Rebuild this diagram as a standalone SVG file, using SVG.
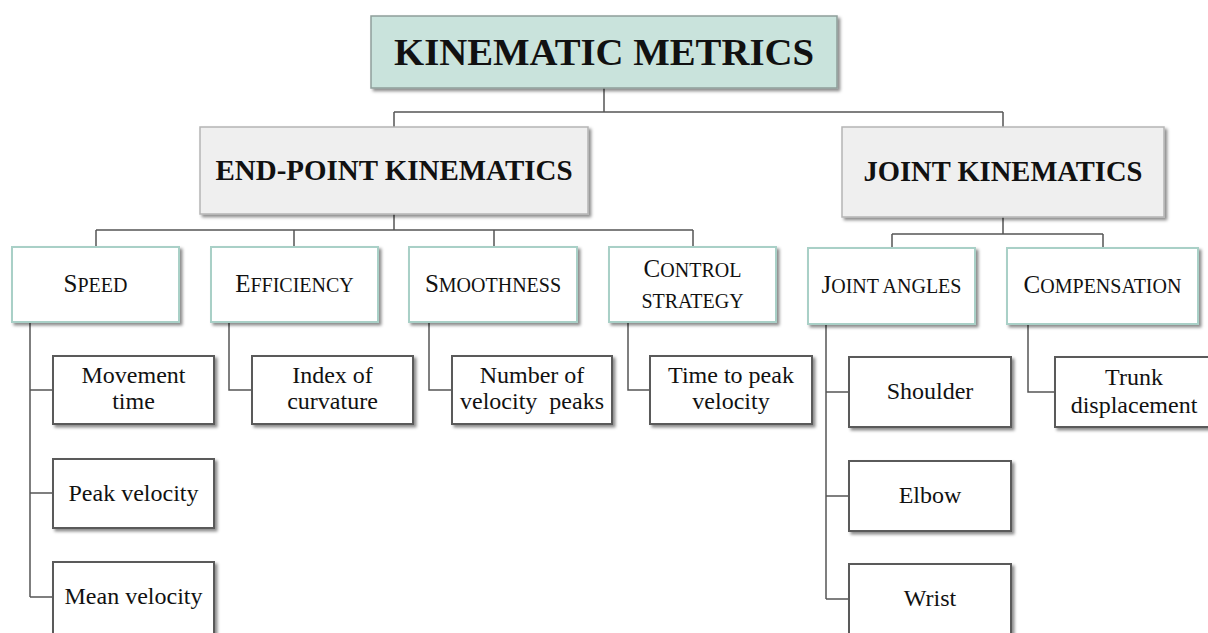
<svg xmlns="http://www.w3.org/2000/svg" width="1208" height="633" viewBox="0 0 1208 633">
<defs>
<filter id="sh" x="-10%" y="-10%" width="130%" height="140%">
<feDropShadow dx="2.5" dy="2.5" stdDeviation="1.5" flood-color="#000" flood-opacity="0.45"/>
</filter>
<style>
.t{font-family:"Liberation Serif","Times New Roman",serif;fill:#111;text-anchor:middle}
.b{font-weight:bold}
.root{fill:#c9e3dc;stroke:#8e9e9a;stroke-width:1.5}
.l1{fill:#efefef;stroke:#b5b5b5;stroke-width:1.5}
.l2{fill:#fff;stroke:#a9d0c7;stroke-width:2}
.l3{fill:#fff;stroke:#5a5a5a;stroke-width:2}
.c{fill:none;stroke:#555;stroke-width:1.5}
.s{font-size:24px}
.sc{font-size:25px}
.sm{font-size:20px}
</style>
</defs>
<rect width="1208" height="633" fill="#fff"/>
<g id="connectors">
<path class="c" d="M604 88V112M394 112H1003M394 112V127M1003 112V127"/>
<path class="c" d="M394 214V230M96 230H693M96 230V247M294 230V247M494 230V247M693 230V247"/>
<path class="c" d="M1003 217V234M892 234H1103M892 234V248M1103 234V248"/>
<path class="c" d="M30 322V597M30 390H53M30 493H53M30 597H53"/>
<path class="c" d="M229 322V390H252"/>
<path class="c" d="M429 322V390H452"/>
<path class="c" d="M628 322V390H650"/>
<path class="c" d="M826 324V599M826 392H849M826 496H849M826 599H849"/>
<path class="c" d="M1028 324V392H1055"/>
</g>
<g id="kinematic-metrics">
<rect class="root" x="371" y="16" width="466" height="72" filter="url(#sh)"/>
<text class="t b" x="604" y="65" font-size="38" textLength="420" lengthAdjust="spacingAndGlyphs">KINEMATIC METRICS</text>
</g>
<g id="end-point-kinematics">
<rect class="l1" x="200" y="127" width="388" height="87" filter="url(#sh)"/>
<text class="t b" x="394" y="180" font-size="29" textLength="357" lengthAdjust="spacingAndGlyphs">END-POINT KINEMATICS</text>
</g>
<g id="joint-kinematics">
<rect class="l1" x="842" y="127" width="322" height="90" filter="url(#sh)"/>
<text class="t b" x="1003" y="181" font-size="29" textLength="279" lengthAdjust="spacingAndGlyphs">JOINT KINEMATICS</text>
</g>
<g id="speed">
<rect class="l2" x="12" y="247" width="167" height="75" filter="url(#sh)"/>
<text class="t" x="95.5" y="292"><tspan class="sc">S</tspan><tspan class="sm">PEED</tspan></text>
</g>
<g id="efficiency">
<rect class="l2" x="211" y="247" width="167" height="75" filter="url(#sh)"/>
<text class="t" x="294.5" y="292"><tspan class="sc">E</tspan><tspan class="sm">FFICIENCY</tspan></text>
</g>
<g id="smoothness">
<rect class="l2" x="409" y="247" width="168" height="75" filter="url(#sh)"/>
<text class="t" x="493" y="292"><tspan class="sc">S</tspan><tspan class="sm">MOOTHNESS</tspan></text>
</g>
<g id="control-strategy">
<rect class="l2" x="609" y="247" width="167" height="75" filter="url(#sh)"/>
<text class="t" x="692.5" y="277"><tspan class="sc">C</tspan><tspan class="sm">ONTROL</tspan></text>
<text class="t sm" x="692.5" y="308">STRATEGY</text>
</g>
<g id="joint-angles">
<rect class="l2" x="808" y="248" width="167" height="76" filter="url(#sh)"/>
<text class="t" x="891.5" y="293"><tspan class="sc">J</tspan><tspan class="sm">OINT ANGLES</tspan></text>
</g>
<g id="compensation">
<rect class="l2" x="1007" y="248" width="191" height="76" filter="url(#sh)"/>
<text class="t" x="1102.5" y="293"><tspan class="sc">C</tspan><tspan class="sm">OMPENSATION</tspan></text>
</g>
<g id="movement-time">
<rect class="l3" x="53" y="356" width="161" height="68" filter="url(#sh)"/>
<text class="t s" x="133.5" y="383">Movement</text>
<text class="t s" x="133.5" y="409">time</text>
</g>
<g id="peak-velocity">
<rect class="l3" x="53" y="459" width="161" height="69" filter="url(#sh)"/>
<text class="t s" x="133.5" y="501">Peak velocity</text>
</g>
<g id="mean-velocity">
<rect class="l3" x="53" y="562" width="161" height="72" filter="url(#sh)"/>
<text class="t s" x="133.5" y="604">Mean velocity</text>
</g>
<g id="index-of-curvature">
<rect class="l3" x="252" y="356" width="161" height="68" filter="url(#sh)"/>
<text class="t s" x="332.5" y="383">Index of</text>
<text class="t s" x="332.5" y="409">curvature</text>
</g>
<g id="number-of-velocity-peaks">
<rect class="l3" x="452" y="356" width="160" height="68" filter="url(#sh)"/>
<text class="t s" x="532" y="383">Number of</text>
<text class="t s" x="532" y="409" xml:space="preserve">velocity  peaks</text>
</g>
<g id="time-to-peak-velocity">
<rect class="l3" x="650" y="356" width="162" height="68" filter="url(#sh)"/>
<text class="t s" x="731" y="383">Time to peak</text>
<text class="t s" x="731" y="409">velocity</text>
</g>
<g id="shoulder">
<rect class="l3" x="849" y="357" width="162" height="70" filter="url(#sh)"/>
<text class="t s" x="930" y="399">Shoulder</text>
</g>
<g id="elbow">
<rect class="l3" x="849" y="461" width="162" height="70" filter="url(#sh)"/>
<text class="t s" x="930" y="503">Elbow</text>
</g>
<g id="wrist">
<rect class="l3" x="849" y="564" width="162" height="72" filter="url(#sh)"/>
<text class="t s" x="930" y="606">Wrist</text>
</g>
<g id="trunk-displacement">
<rect class="l3" x="1055" y="357" width="162" height="70" filter="url(#sh)"/>
<text class="t s" x="1134" y="385">Trunk</text>
<text class="t s" x="1134" y="413">displacement</text>
</g>
</svg>
